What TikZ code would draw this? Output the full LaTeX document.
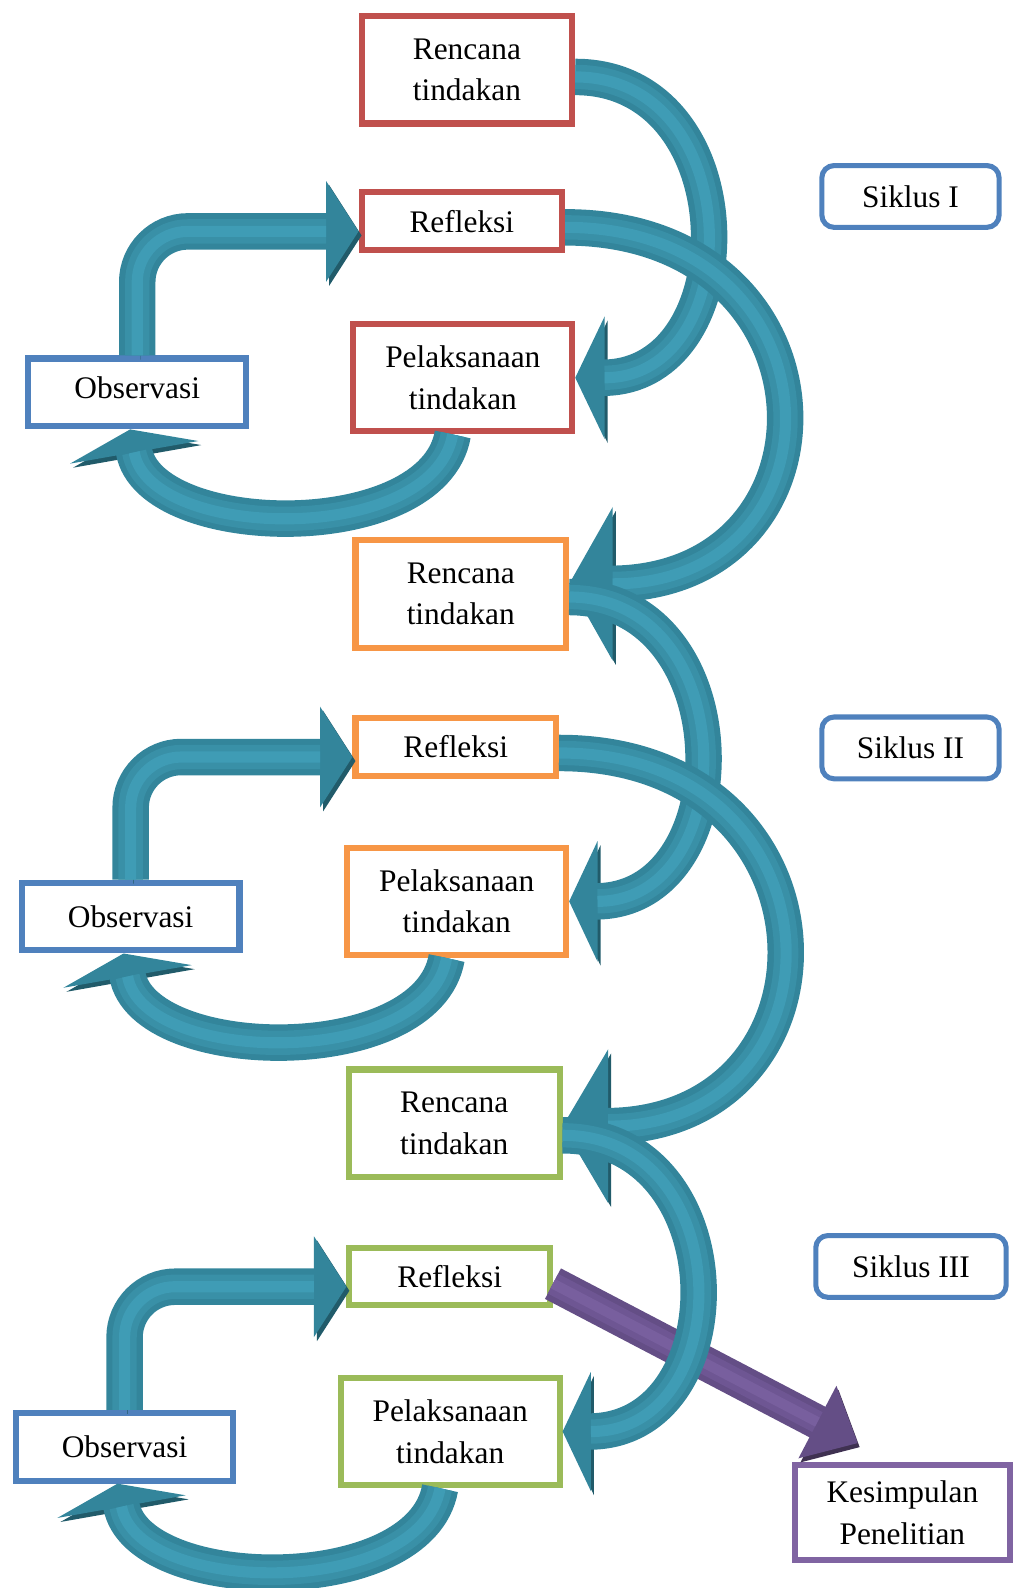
\documentclass[tikz,border=0pt]{standalone}
\usepackage{fontspec}
\setmainfont{Liberation Serif}
\usetikzlibrary{arrows.meta}
\definecolor{siklusred}{HTML}{C0504D}
\definecolor{siklusorange}{HTML}{F79646}
\definecolor{siklusgreen}{HTML}{9BBB59}
\definecolor{boxblue}{HTML}{4F81BD}
\definecolor{boxpurple}{HTML}{8064A2}
\definecolor{tealmain}{HTML}{33859B}
\definecolor{tealmid}{HTML}{3990A7}
\definecolor{teallight}{HTML}{3F9CB5}
\definecolor{tealdark}{HTML}{215B6A}
\definecolor{purplemain}{HTML}{644E86}
\definecolor{purplemid}{HTML}{6E5693}
\definecolor{purplelight}{HTML}{785F9E}
\definecolor{purpledark}{HTML}{3F3151}
\begin{document}
\begin{tikzpicture}[x=1pt,y=1pt,
  box/.style={draw=#1, line width=6pt, fill=white, align=center, inner sep=0pt,
    font=\fontsize{31}{41}\selectfont},
  rencanabox/.style={box=#1, minimum width=208pt, minimum height=106pt},
  refleksibox/.style={box=#1, minimum width=198pt, minimum height=57pt},
  pelaksanaanbox/.style={box=#1, minimum width=216pt, minimum height=106pt},
  observasibox/.style={box=boxblue, minimum width=215pt, minimum height=67pt},
  siklus/.style={draw=boxblue, line width=5pt, rounded corners=12pt, fill=white,
    minimum width=175pt, minimum height=61pt, inner sep=0pt,
    font=\fontsize{31}{41}\selectfont},
  flow/.style 2 args={draw=tealmain, line width=36pt, -{Triangle[length=#1,width=#2]},
    preaction={draw=tealdark, transform canvas={xshift=3pt,yshift=-4pt}},
    postaction={draw=tealmid, line width=24pt, -, shorten >=#1},
    postaction={draw=teallight, line width=11pt, -, shorten >=#1}},
  conclude/.style={draw=purplemain, line width=34pt, -{Triangle[length=45pt,width=78pt]},
    preaction={draw=purpledark, transform canvas={xshift=2pt,yshift=-4pt}},
    postaction={draw=purplemid, line width=22pt, -, shorten >=45pt},
    postaction={draw=purplelight, line width=10pt, -, shorten >=45pt}},
  ]
\useasboundingbox (0,0) rectangle (1002,1568);

\node[rencanabox=siklusred] (ren1) at (461,1499) {Rencana\\tindakan};
\node[refleksibox=siklusred] (ref1) at (456,1349.5) {Refleksi};
\node[pelaksanaanbox=siklusred] (pel1) at (457,1195) {Pelaksanaan\\tindakan};
\node[observasibox] (obs1) at (135.5,1180.5) {\raisebox{10pt}{Observasi}};
\node[siklus] (sik1) at (899,1374) {Siklus I};

\node[rencanabox=siklusorange] (ren2) at (455,981.5) {Rencana\\tindakan};
\node[refleksibox=siklusorange] (ref2) at (450,830.5) {Refleksi};
\node[pelaksanaanbox=siklusorange] (pel2) at (451,678) {Pelaksanaan\\tindakan};
\node[observasibox] (obs2) at (129,663) {Observasi};
\node[siklus] (sik2) at (899,829.5) {Siklus II};

\node[rencanabox=siklusgreen] (ren3) at (448.5,459) {Rencana\\tindakan};
\node[refleksibox=siklusgreen] (ref3) at (444,307.5) {Refleksi};
\node[pelaksanaanbox=siklusgreen] (pel3) at (444.5,154.5) {Pelaksanaan\\tindakan};
\node[observasibox] (obs3) at (123,139.5) {Observasi};
\node[siklus, minimum width=188pt] (sik3) at (899.5,317.5) {Siklus III};

\node[box=boxpurple, minimum width=212pt, minimum height=93pt] (kes) at (891,74.5) {Kesimpulan\\Penelitian};

\draw[conclude] ([yshift=-7pt]ref3.east) -- ([xshift=-44pt,yshift=19pt]kes.north);

\draw[flow={29pt}{120pt}] ([yshift=-7pt]ren1.east) to[out=0,in=0,looseness=1.48] (pel1.east);
\draw[flow={32pt}{98pt}, rounded corners=50pt] (obs1.north) |- ([yshift=-10pt]ref1.west);
\draw[flow={23pt}{128pt}] ([xshift=-10pt]pel1.south) to[out=-100,in=-80,looseness=0.9] ([xshift=-7pt]obs1.south);
\draw[flow={43pt}{150pt}] ([yshift=-6pt]ref1.east) to[out=0,in=0,looseness=2.03] ([yshift=10pt]ren2.east);

\draw[flow={28pt}{118pt}] ([yshift=-3pt]ren2.east) to[out=0,in=0,looseness=1.47] (pel2.east);
\draw[flow={32pt}{98pt}, rounded corners=50pt] (obs2.north) |- ([yshift=-10pt]ref2.west);
\draw[flow={23pt}{128pt}] ([xshift=-10pt]pel2.south) to[out=-100,in=-80,looseness=0.9] ([xshift=-7pt]obs2.south);
\draw[flow={45pt}{150pt}] ([yshift=-6pt]ref2.east) to[out=0,in=0,looseness=2.0] ([yshift=-3pt]ren3.east);

\draw[flow={28pt}{117pt}] ([yshift=-12pt]ren3.east) to[out=0,in=0,looseness=1.53] (pel3.east);
\draw[flow={32pt}{98pt}, rounded corners=50pt] (obs3.north) |- ([yshift=-10pt]ref3.west);
\draw[flow={23pt}{128pt}] ([xshift=-10pt]pel3.south) to[out=-100,in=-80,looseness=0.9] ([xshift=-7pt]obs3.south);
\end{tikzpicture}
\end{document}
